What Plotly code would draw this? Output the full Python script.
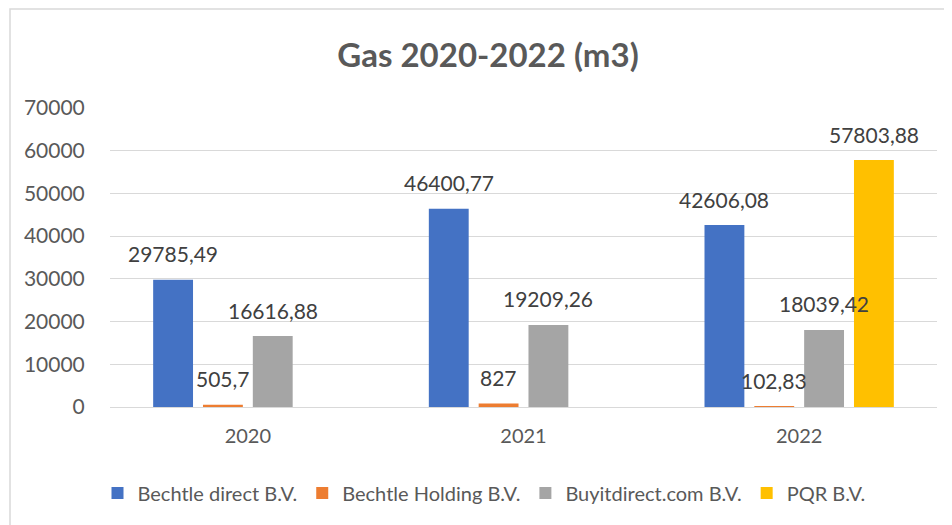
import plotly.graph_objects as go

years = ["2020", "2021", "2022"]
series_names = ["Bechtle direct B.V.", "Bechtle Holding B.V.", "Buyitdirect.com B.V.", "PQR B.V."]
bechtle_direct = [29785.49, 46400.77, 42606.08]
bechtle_holding = [505.7, 827, 102.83]
buyitdirect = [16616.88, 19209.26, 18039.42]
pqr = [None, None, 57803.88]
colors = ["#4472C4", "#ED7D31", "#A5A5A5", "#FFC000"]
y_ticks = [0, 10000, 20000, 30000, 40000, 50000, 60000, 70000]

all_series = [bechtle_direct, bechtle_holding, buyitdirect, pqr]

W, H = 952, 525
# page body has an 8px margin, so positions are compensated
L, R, T, B = 102, 23, 100, 126
BARGAP = 0.277
GROUPGAP = 0.2


def fmt(v):
    return ("%.2f" % v).rstrip("0").rstrip(".").replace(".", ",")


fig = go.Figure()
for name, vals, col in zip(series_names, all_series, colors):
    fig.add_trace(go.Bar(
        x=years, y=vals, name=name, marker_color=col,
        marker_line_width=0,
    ))

plot_w = W - L - R
plot_h = H - T - B
cat_w = plot_w / len(years)
slot = cat_w * (1 - BARGAP) / len(all_series)
n = len(all_series)
annotations = []
for i, vals in enumerate(all_series):
    for j, v in enumerate(vals):
        if v is None:
            continue
        annotations.append(dict(
            x=j, y=v, xref="x", yref="y", text=fmt(v), showarrow=False,
            xshift=(i - (n - 1) / 2) * slot, yshift=26, yanchor="middle",
            font=dict(family="Lato", size=21, color="#404040"),
        ))

fig.update_layout(
    width=W, height=H,
    margin=dict(l=L, r=R, t=T, b=B),
    paper_bgcolor="white", plot_bgcolor="white",
    barmode="group", bargap=BARGAP, bargroupgap=GROUPGAP,
    title=dict(text="<b>Gas 2020-2022 (m3)</b>", x=480 / W, xanchor="center",
               y=1 - 47 / H, yanchor="middle",
               font=dict(family="Lato", size=33, color="#595959")),
    font=dict(family="Lato", color="#595959"),
    xaxis=dict(type="category", categoryorder="array", categoryarray=years,
               range=[-0.5, len(years) - 0.5],
               showgrid=False, showline=False, ticks="outside", ticklen=11,
               tickcolor="rgba(0,0,0,0)", tickfont=dict(size=20, color="#595959")),
    yaxis=dict(range=[0, 70000], tickvals=y_ticks, ticktext=[str(t) for t in y_ticks],
               showgrid=True, gridcolor="#D9D9D9", gridwidth=1.3,
               zeroline=True, zerolinecolor="#D9D9D9", zerolinewidth=1.3,
               ticks="outside", ticklen=20, tickcolor="rgba(0,0,0,0)",
               tickfont=dict(size=21, color="#595959")),
    legend=dict(orientation="h", x=(476 - L) / plot_w, xanchor="center",
                y=(H - B - 485) / plot_h, yanchor="middle",
                font=dict(size=20, color="#595959"), itemwidth=30,
                traceorder="normal"),
    annotations=annotations,
    showlegend=True,
)

fig.add_shape(type="rect", xref="paper", yref="paper",
              x0=(2 - L) / plot_w, x1=(960 - L) / plot_w,
              y0=(H - B - 540) / plot_h, y1=(H - B - 1) / plot_h,
              line=dict(color="#D9D9D9", width=1.5), fillcolor="rgba(0,0,0,0)",
              layer="below")

fig.write_html("out.html")
